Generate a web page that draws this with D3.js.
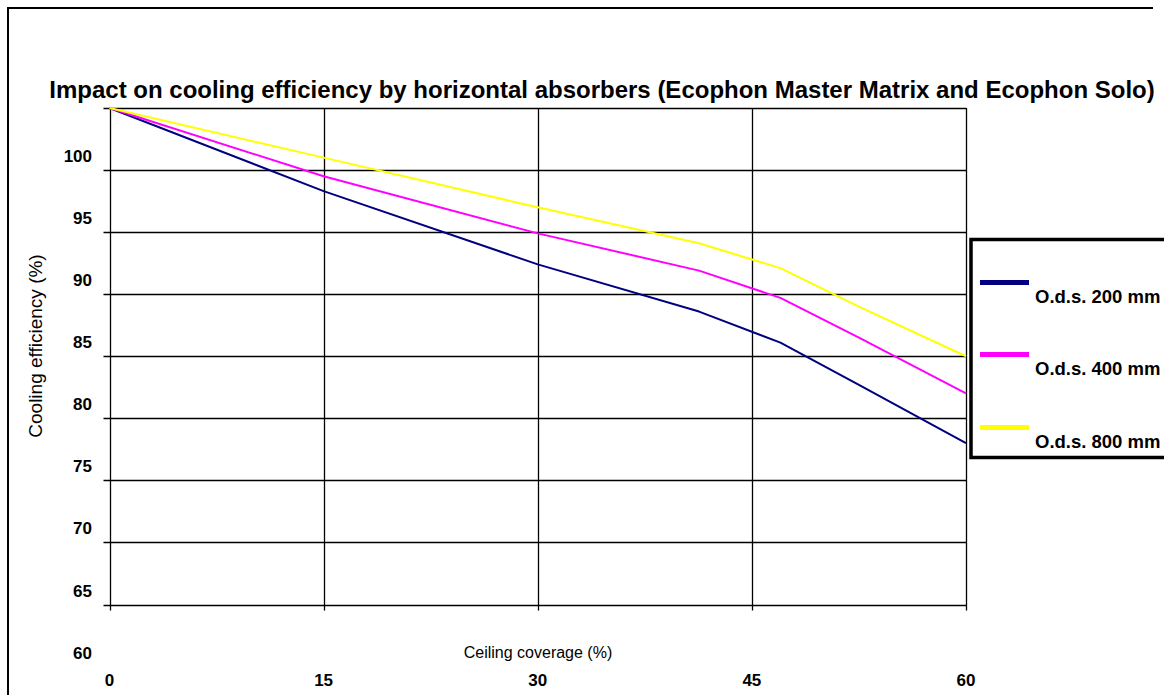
<!DOCTYPE html>
<html>
<head>
<meta charset="utf-8">
<script src="https://cdn.jsdelivr.net/npm/d3@7/dist/d3.min.js"></script>
<style>
  html, body { margin: 0; padding: 0; background: #fff; }
  svg { display: block; font-family: Arial, "Liberation Sans", sans-serif; }
</style>
</head>
<body>
<svg id="chart" width="1164" height="695"></svg>
<script>
// ---- data ----
const title = "Impact on cooling efficiency by horizontal absorbers (Ecophon Master Matrix and Ecophon Solo)";
const xTitle = "Ceiling coverage (%)";
const yTitle = "Cooling efficiency (%)";
const coverage = [0, 15, 30, 41.3, 47, 52.5, 60];
const ods200 = [105, 98.3, 92.4, 88.6, 86.1, 82.7, 78];
const ods400 = [105, 99.5, 94.9, 91.9, 89.7, 86.5, 82];
const ods800 = [105, 101, 97, 94.1, 92.1, 89.0, 85];
const seriesNames = ["O.d.s. 200 mm", "O.d.s. 400 mm", "O.d.s. 800 mm"];
const seriesColors = ["#000080", "#FF00FF", "#FFFF00"];
const xTicks = [0, 15, 30, 45, 60];
const yTickLabels = [60, 65, 70, 75, 80, 85, 90, 95, 100];
const yGrid = [65, 70, 75, 80, 85, 90, 95, 100, 105];

const series = [ods200, ods400, ods800];

const svg = d3.select("#chart");
const plot = { left: 109.5, right: 966, top: 108, bottom: 604.5 };

const x = d3.scaleLinear().domain([0, 60]).range([plot.left, plot.right]);
const y = d3.scaleLinear().domain([65, 105]).range([plot.bottom, plot.top]);

// outer border (left + top)
svg.append("path")
  .attr("d", "M8,695 L8,8 L1153,8")
  .attr("fill", "none").attr("stroke", "#000").attr("stroke-width", 2);

// title
svg.append("text")
  .attr("x", 602).attr("y", 98)
  .attr("text-anchor", "middle")
  .attr("font-weight", "bold").attr("font-size", 24)
  .text(title);

// gridlines horizontal
svg.append("g").selectAll("line").data(yGrid).join("line")
  .attr("x1", plot.left - 6).attr("x2", plot.right)
  .attr("y1", d => Math.round(y(d)) + 0.5).attr("y2", d => Math.round(y(d)) + 0.5)
  .attr("stroke", "#000").attr("stroke-width", 1.3);

// gridlines vertical
svg.append("g").selectAll("line").data(xTicks).join("line")
  .attr("x1", d => Math.round(x(d)) + 0.5).attr("x2", d => Math.round(x(d)) + 0.5)
  .attr("y1", plot.top).attr("y2", plot.bottom + 6)
  .attr("stroke", "#000").attr("stroke-width", 1.3);

// y tick labels (drawn just above their gridline, as in original)
svg.append("g").selectAll("text").data(yTickLabels).join("text")
  .attr("x", 92).attr("y", d => y(d) - 8)
  .attr("text-anchor", "end")
  .attr("font-weight", "bold").attr("font-size", 17)
  .text(d => d);

// x tick labels
svg.append("g").selectAll("text").data(xTicks).join("text")
  .attr("x", d => x(d)).attr("y", 686)
  .attr("text-anchor", "middle")
  .attr("font-weight", "bold").attr("font-size", 17)
  .text(d => d);

// axis titles
svg.append("text")
  .attr("x", 538).attr("y", 658)
  .attr("text-anchor", "middle").attr("font-size", 16)
  .text(xTitle);
svg.append("text")
  .attr("transform", "translate(42,346) rotate(-90)")
  .attr("text-anchor", "middle").attr("font-size", 19)
  .text(yTitle);

// lines
const line = d3.line().x((d, i) => x(coverage[i])).y(d => y(d));
svg.append("g").selectAll("path").data(series).join("path")
  .attr("d", d => line(d))
  .attr("fill", "none")
  .attr("stroke", (d, i) => seriesColors[i])
  .attr("stroke-width", 2)
  .attr("stroke-linejoin", "round");

// legend
const lg = svg.append("g");
lg.append("rect")
  .attr("x", 971).attr("y", 239.5).attr("width", 220).attr("height", 218)
  .attr("fill", "#fff").attr("stroke", "#000").attr("stroke-width", 3.5);
const rowY = [282.5, 354.5, 427.5];
seriesNames.forEach((name, i) => {
  lg.append("line")
    .attr("x1", 980).attr("x2", 1029)
    .attr("y1", rowY[i]).attr("y2", rowY[i])
    .attr("stroke", seriesColors[i]).attr("stroke-width", 5);
  lg.append("text")
    .attr("x", 1035).attr("y", rowY[i] + 20.5)
    .attr("font-weight", "bold").attr("font-size", 18.5)
    .text(name);
});
</script>
</body>
</html>
